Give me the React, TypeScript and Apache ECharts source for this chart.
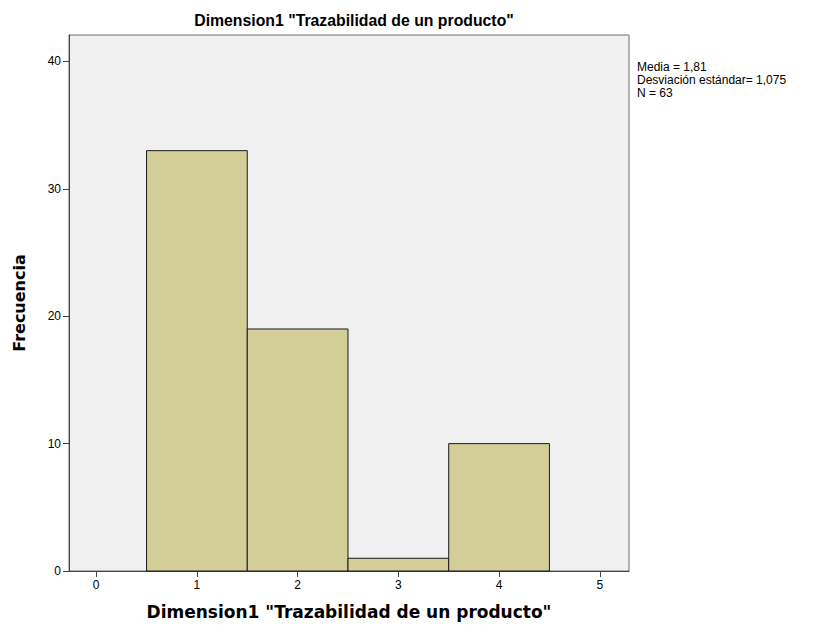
import React, { useEffect, useRef } from "react";
import * as echarts from "echarts";

const binCenters = [1, 2, 3, 4];
const frequencies = [33, 19, 1, 10];
const xTickLabels = [0, 1, 2, 3, 4, 5];
const yTickLabels = [0, 10, 20, 30, 40];
const statsLines = ["Media = 1,81", "Desviación estándar= 1,075", "N = 63"];

const titleText = 'Dimension1 "Trazabilidad de un producto"';
const xName = 'Dimension1 "Trazabilidad de un producto"';
const yName = "Frecuencia";

export default function App() {
  const ref = useRef<HTMLDivElement>(null);
  useEffect(() => {
    if (!ref.current) return;
    const chart = echarts.init(ref.current, null, { renderer: "svg" });
    const font = "'Liberation Sans', Arial, sans-serif";
    const wideFont = "'DejaVu Sans', Verdana, sans-serif";
    const data = binCenters.map((c, i) => [c, frequencies[i]]);
    chart.setOption({
      animation: false,
      textStyle: { fontFamily: font },
      title: {
        text: titleText,
        left: 349,
        top: 7,
        textAlign: "center",
        textStyle: { fontSize: 15.8, fontWeight: "bold", color: "#000", fontFamily: font },
      },
      grid: { left: 69, right: 195, top: 35, bottom: 58, show: true, backgroundColor: "#f0f0f0", borderColor: "#6e6e6e", borderWidth: 1 },
      xAxis: {
        type: "value",
        min: -0.27,
        max: 5.29,
        name: xName,
        nameLocation: "middle",
        nameGap: 32,
        nameTextStyle: { fontSize: 17, fontWeight: "bold", color: "#000", fontFamily: wideFont },
        axisLine: { show: true, onZero: false, lineStyle: { color: "#444", width: 1 } },
        axisTick: { show: true, length: 6, customValues: xTickLabels, lineStyle: { color: "#444" } },
        axisLabel: { customValues: xTickLabels, color: "#000", fontSize: 12, margin: 8, fontFamily: font },
        splitLine: { show: false },
      },
      yAxis: {
        type: "value",
        min: 0,
        max: 42.08,
        name: yName,
        nameLocation: "middle",
        nameGap: 42,
        nameTextStyle: { fontSize: 16, fontWeight: "bold", color: "#000", fontFamily: wideFont },
        axisLine: { show: true, onZero: false, lineStyle: { color: "#444", width: 1 } },
        axisTick: { show: true, length: 6, customValues: yTickLabels, lineStyle: { color: "#444" } },
        axisLabel: { customValues: yTickLabels, color: "#000", fontSize: 12, margin: 8, fontFamily: font },
        splitLine: { show: false },
      },
      series: [
        {
          type: "custom",
          data,
          renderItem: (params: any, api: any) => {
            const c = api.value(0);
            const v = api.value(1);
            const p0 = api.coord([c - 0.5, v]);
            const p1 = api.coord([c + 0.5, 0]);
            return {
              type: "rect",
              shape: { x: p0[0], y: p0[1], width: p1[0] - p0[0], height: p1[1] - p0[1] },
              style: { fill: "#d3ce97", stroke: "#1a1a1a", lineWidth: 1 },
            };
          },
        },
      ],
      graphic: statsLines.map((line, i) => ({
        type: "text",
        left: 637,
        top: 61 + i * 13,
        style: {
          text: line,
          fontSize: 12,
          fill: "#000",
          fontFamily: font,
        },
      })),
    });
    return () => chart.dispose();
  }, []);
  return <div ref={ref} style={{ width: 824, height: 629, position: "absolute", left: 0, top: 0 }} />;
}
